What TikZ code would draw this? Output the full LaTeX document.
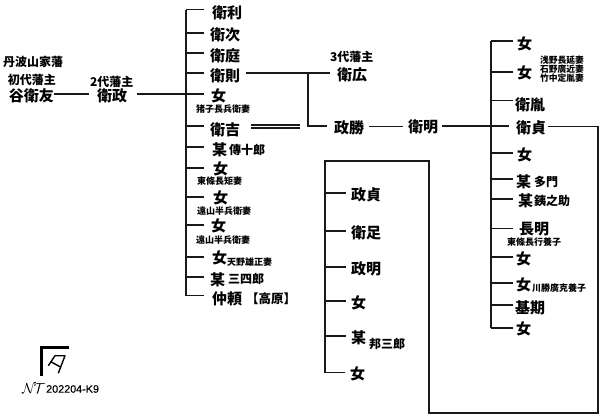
\documentclass[tikz,border=0pt]{standalone}
\usepackage{fontspec}
\setmainfont{Noto Sans CJK JP}
\newfontfamily\latinsf{Liberation Sans}[FakeBold=0.4]
\tikzset{
  link/.style={draw=black!90,line width=1.35pt},
  twin/.style={draw=black!90,line width=1.2pt},
  big/.style={anchor=west,inner ysep=0pt,outer sep=0pt,yshift=-0.7pt,font=\bfseries\fontsize{15}{15}\selectfont},
  mid/.style={anchor=west,inner sep=0pt,outer sep=0pt,font=\bfseries\fontsize{12}{12}\selectfont},
  small/.style={anchor=west,inner sep=0pt,outer sep=0pt,font=\bfseries\fontsize{9}{9}\selectfont},
}
% #1 name, #2 junction x, #3 junction y, #4 line end x, #5 text y, #6 text left x, #7 text
\newcommand{\kid}[7]{%
  \coordinate (j#1) at (#2,#3);
  \pgfmathsetmacro{\gapv}{#6-#4}
  \node[big,inner xsep=\gapv pt] (#1) at (#4,#5) {#7};
  \draw[link] (j#1) -- (j#1 -| #1.west);
}
\begin{document}
\begin{tikzpicture}[x=1pt,y=-1pt]
\useasboundingbox[fill=white] (0,0) rectangle (600,415);
% headings, top left
\node[mid] (han) at (3,62) {丹波山家藩};
\node[mid] (d1) at (8,80) {初代藩主};
\node[big,inner xsep=0pt] (tomo) at (9,95) {谷衛友};
\node[mid] (d2) at (90,82) {2代藩主};
\node[big,inner xsep=0pt] (masa) at (97,95) {衛政};
\draw[link] (tomo.east |- 0,94) -- (89,94) coordinate (a1);
% first trunk
\coordinate (ttop) at (186,9.5);
\coordinate (tbot) at (186,295.5);
\draw[link,line cap=square] (ttop) -- (tbot);
\kid{a}{186}{9.5}{204}{12}{212}{衛利}
\kid{b}{186}{33}{204}{34}{210}{衛次}
\kid{c}{186}{53}{204}{55}{210}{衛庭}
\kid{d}{186}{73}{204}{75}{210}{衛則}
\node[big,inner xsep=7pt] (e) at (204,95) {女};
\draw[link] ([xshift=10pt]masa.east |- 0,94) coordinate (m0) -- (m0 -| e.west);
\node[small] (en) at (196,109) {猪子長兵衛妻};
\kid{f}{186}{126}{204}{129}{210}{衛吉}
\kid{g}{186}{147}{204}{149}{212}{某}
\node[mid] (gn) at (229,150) {傳十郎};
\kid{h}{186}{168}{204}{168}{213}{女}
\node[small] (hn) at (197,181) {東條長矩妻};
\kid{i}{186}{197}{204}{197}{213}{女}
\node[small] (in) at (197,211) {遠山半兵衛妻};
\kid{k}{186}{225}{204}{225}{211}{女}
\node[small] (kn) at (196,240) {遠山半兵衛妻};
\kid{l}{186}{257}{204}{257}{212}{女}
\node[small] (ln) at (227,262) {天野雄正妻};
\kid{m}{186}{277}{204}{279}{210}{某}
\node[mid] (mn) at (228,279) {三四郎};
\kid{n}{186}{295.5}{204}{298}{212}{仲頼}
\node[mid,font=\bfseries\fontsize{12.5}{13}\selectfont] (nn) at (246,299) {【高原】};
% middle
\node[mid] (d3) at (330,57) {3代藩主};
\node[big,inner xsep=0pt] (hiro) at (337,74) {衛広};
\node[big,inner xsep=0pt] (kachi) at (334,127) {政勝};
\node[big,inner xsep=0pt] (aki) at (408,126) {衛明};
\draw[link] (d.east |- 0,73) -- ([xshift=-7pt]hiro.west |- 0,73);
\coordinate (tm) at (308,73);
\draw[link] (tm) -- (308,126) coordinate (tn) -- ([xshift=-7pt]kachi.west |- tn);
\draw[link] ([xshift=5pt]kachi.east |- 0,126.5) -- ([xshift=-5pt]aki.west |- 0,126.5);
\coordinate (dbl) at (300,126.5);
\draw[twin] ([xshift=5pt]f.east |- 0,125) coordinate (f1) -- (f1 -| dbl);
\draw[twin] ([xshift=5pt]f.east |- 0,128) coordinate (f2) -- (f2 -| dbl);
% second trunk
\coordinate (rtop) at (491,41);
\coordinate (rbot) at (491,328);
\draw[link,line cap=square] (rtop) -- (rbot);
\kid{ra}{491}{41}{513}{43}{517}{女}
\kid{rb}{491}{72}{513}{72}{517}{女}
\node[small,font=\bfseries\fontsize{8.8}{8.8}\selectfont] at (540,60) (rb1) {浅野長延妻};
\node[small,font=\bfseries\fontsize{8.8}{8.8}\selectfont] at (540,69) (rb2) {石野廣近妻};
\node[small,font=\bfseries\fontsize{8.8}{8.8}\selectfont] at (540,78) (rb3) {竹中定胤妻};
\kid{rc}{491}{100.5}{513}{104}{515}{衛胤}
\kid{rd}{491}{126}{509}{127}{516}{衛貞}
\draw[link] ([xshift=4pt]aki.east |- 0,126) -- (jrd);
\kid{re}{491}{153}{513}{154}{517}{女}
\kid{rf}{491}{179}{513}{181}{516}{某}
\node[mid] (rfn) at (534,182) {多門};
\kid{rg}{491}{199}{513}{200}{518}{某}
\node[mid] (rgn) at (534,201) {銕之助};
\kid{rh}{491}{228.5}{513}{228}{519}{長明}
\node[small] (rhn) at (507,242) {東條長行養子};
\kid{ri}{491}{257}{513}{258}{516}{女}
\kid{rk}{491}{283}{513}{284}{516}{女}
\node[small] (rkn) at (532,288) {川勝廣克養子};
\kid{rl}{491}{305}{513}{307}{515}{基期}
\kid{rm}{491}{328}{513}{328}{516}{女}
% long connector from the fourth child round to the inner trunk
\draw[link,line join=miter] ([xshift=-5pt]rd.east |- 0,126.5) -- (598,126.5) -- (598,413) -- (429,413) -- (429,161) -- (325,161) -- (325,372.5) coordinate (ibot);
\kid{sa}{325}{193}{346}{194}{351}{政貞}
\kid{sb}{325}{231}{346}{232}{351}{衛足}
\kid{sc}{325}{267}{346}{268}{351}{政明}
\kid{sd}{325}{301}{346}{302}{351}{女}
\kid{se}{325}{336}{346}{337}{351}{某}
\node[mid] (sen) at (369,344) {邦三郎};
\kid{sf}{325}{372.5}{345}{373}{350}{女}
% mark
\draw[line width=3pt,line cap=butt] (69,347.5) coordinate (lg0) -- (41.5,347.5) coordinate (lg1) -- (41.5,376) coordinate (lg2);
\draw[line width=1.4pt,line join=round] (48.3,365.7) -- (55,355.7) -- (65,355.7) -- (58.3,373.3) (50.7,361.7) -- (60,366.7);
\node[anchor=west,inner sep=0pt,font=\fontsize{14}{14}\selectfont] (nt) at (22,388.5) {$\mathcal{N}\!\mathcal{T}$};
\node[anchor=west,inner sep=0pt,font=\latinsf\fontsize{10.8}{11}\selectfont] (code) at (46,389) {202204-K9};
\end{tikzpicture}
\end{document}
